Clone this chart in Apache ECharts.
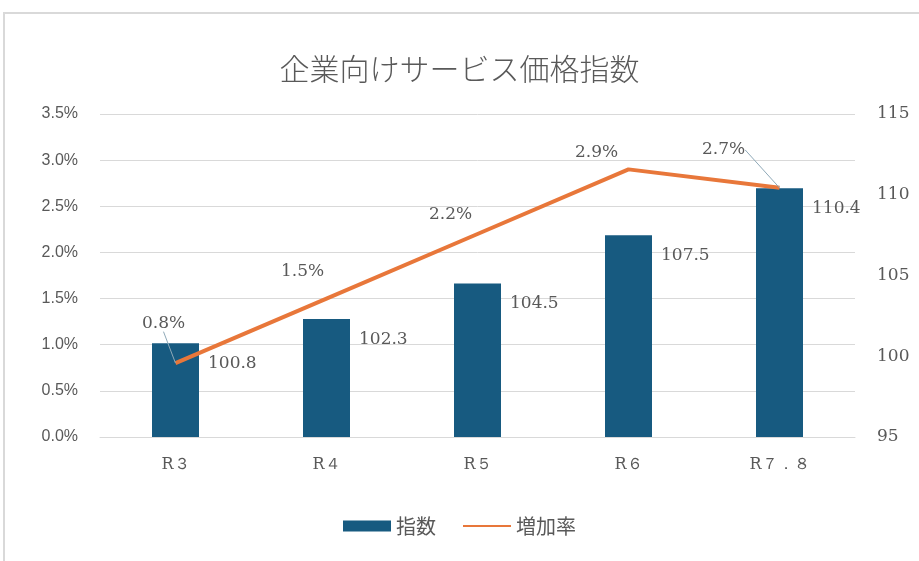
<!DOCTYPE html>
<html><head><meta charset="utf-8">
<script src="https://cdn.jsdelivr.net/npm/echarts@6/dist/echarts.min.js"></script>
<style>html,body{margin:0;padding:0;background:#fff}#c{width:919px;height:561px}</style>
</head><body><div id="c"></div>
<script>
const categories = ['R３', 'R４', 'R５', 'R６', 'R７．８'];
const indexValues = [100.8, 102.3, 104.5, 107.5, 110.4];
const rateValues = [0.8, 1.5, 2.2, 2.9, 2.7];
const leftTicks = { min: 0, max: 3.5, interval: 0.5 };
const rightTicks = { min: 95, max: 115, interval: 5 };

const rateLabelOffsets = [[-12, -40], [-24, -27], [-27, -19], [-32, -17], [-56, -38]];
const rateLeader = [true, false, false, false, true];
const greyText = '#595959';
const serif = 'DejaVu Serif, Liberation Serif, serif';

const chart = echarts.init(document.getElementById('c'));
chart.setOption({
  animation: false,
  backgroundColor: '#fff',
  graphic: [{ type: 'rect', shape: { x: 4, y: 13, width: 940, height: 580 }, style: { fill: 'none', stroke: '#d9d9d9', lineWidth: 2 }, silent: true }],
  title: {
    text: '企業向けサービス価格指数', left: 'center', top: 49,
    textStyle: { fontFamily: 'Noto Sans CJK JP', fontWeight: 300, fontSize: 30, color: greyText }
  },
  legend: {
    bottom: 20, left: 'center', itemGap: 26, itemWidth: 48, itemHeight: 11,
    textStyle: { fontFamily: 'Noto Sans CJK JP', fontSize: 20, color: greyText },
    data: [{ name: '指数', icon: 'rect' }, { name: '増加率', itemStyle: { opacity: 0 } }]
  },
  grid: { left: 100, right: 64, top: 114, bottom: 124 },
  xAxis: {
    type: 'category', data: categories,
    axisLine: { lineStyle: { color: '#d9d9d9', width: 1 } },
    axisTick: { show: false },
    axisLabel: { color: greyText, fontSize: 16, fontFamily: serif, margin: 20 }
  },
  yAxis: [{
    type: 'value', min: leftTicks.min, max: leftTicks.max, interval: leftTicks.interval,
    position: 'left',
    axisLine: { show: false }, axisTick: { show: false },
    splitLine: { lineStyle: { color: '#d9d9d9' } },
    axisLabel: { color: greyText, fontSize: 16, fontFamily: 'Liberation Sans, Arial, sans-serif', margin: 22, formatter: v => v.toFixed(1) + '%' }
  }, {
    type: 'value', min: rightTicks.min, max: rightTicks.max, interval: rightTicks.interval,
    position: 'right',
    axisLine: { show: false }, axisTick: { show: false }, splitLine: { show: false },
    axisLabel: { color: greyText, fontSize: 17, fontFamily: serif, margin: 22 }
  }],
  series: [{
    name: '指数', type: 'bar', yAxisIndex: 1, data: indexValues, barWidth: 47,
    itemStyle: { color: '#175a80' },
    label: { show: true, position: [56, 12], color: greyText, fontSize: 17, fontFamily: serif }
  }, {
    name: '増加率', type: 'line', yAxisIndex: 0,
    data: rateValues.map((v, i) => ({
      value: v,
      labelLine: { show: rateLeader[i] }
    })),
    symbol: 'circle', symbolSize: 0.1, showSymbol: true,
    lineStyle: { color: '#e8773a', width: 4 }, itemStyle: { color: '#e8773a' },
    label: { show: true, position: 'inside', color: greyText, fontSize: 17, fontFamily: serif, formatter: p => p.value.toFixed(1) + '%' },
    labelLine: { show: false, lineStyle: { color: '#8fa9b8', width: 1 } },
    labelLayout: p => ({ dx: rateLabelOffsets[p.dataIndex][0], dy: rateLabelOffsets[p.dataIndex][1] })
  }]
});
</script></body></html>
